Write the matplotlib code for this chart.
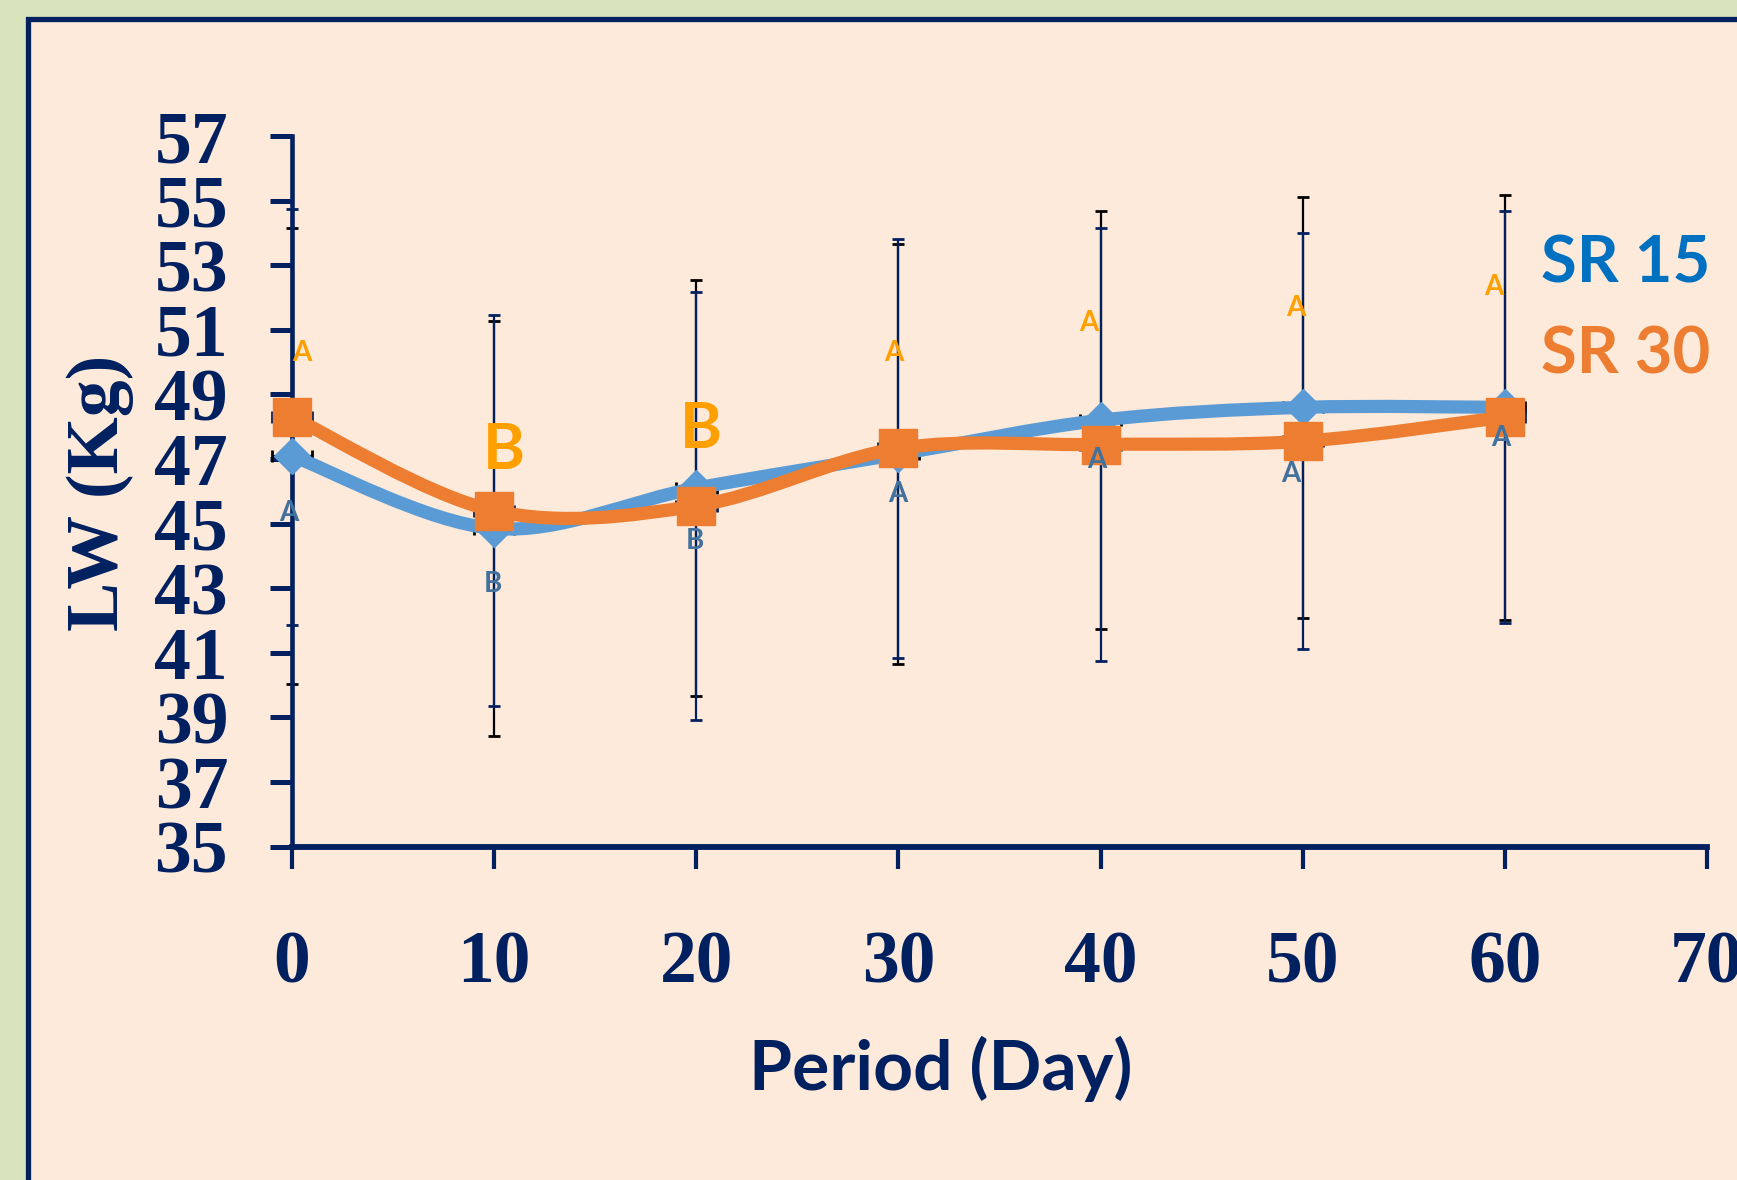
import matplotlib.pyplot as plt
from matplotlib.path import Path
from matplotlib.patches import PathPatch, Rectangle

# datos
dias = [0, 10, 20, 30, 40, 50, 60]
sr15 = [47.1, 44.85, 46.1, 47.15, 48.2, 48.6, 48.6]
sr15_de = [7.06, 6.43, 6.45, 6.5, 6.47, 6.52, 6.57]
sr30 = [48.3, 45.4, 45.55, 47.33, 47.45, 47.55, 48.3]
sr30_de = [6.43, 6.05, 6.63, 6.49, 6.69, 6.44, 6.38]

letras15 = ["A", "B", "B", "A", "A", "A", "A"]
letras30 = ["A", "B", "B", "A", "A", "A", "A"]
# donde va cada letra (coordenadas de datos)
pos15_x = [-0.15, 9.95, 19.94, 29.99, 39.83, 49.43, 59.82]
pos15_y = [45.33, 43.12, 44.46, 45.92, 46.97, 46.54, 47.66]
pos30_x = [0.49, 10.49, 20.24, 29.79, 39.44, 49.68, 59.43]
pos30_y = [50.28, 47.25, 47.93, 50.28, 51.2, 51.68, 52.33]

y_ticks = list(range(35, 58, 2))
x_ticks = list(range(0, 71, 10))

azul_osc = "#002060"
azul = "#5B9BD5"
naranja = "#ED7D31"
amarillo = "#FFA000"
azul_letra = "#41719C"


def curva_suave(x, y):
    # linea suavizada tipo Excel (Bezier por tramos)
    pts = list(zip(x, y))
    n = len(pts)
    verts = [pts[0]]
    codes = [Path.MOVETO]
    for i in range(n - 1):
        p0 = pts[i - 1] if i > 0 else pts[i]
        p1 = pts[i]
        p2 = pts[i + 1]
        p3 = pts[i + 2] if i + 2 < n else pts[i + 1]
        c1 = (p1[0] + (p2[0] - p0[0]) / 6, p1[1] + (p2[1] - p0[1]) / 6)
        c2 = (p2[0] - (p3[0] - p1[0]) / 6, p2[1] - (p3[1] - p1[1]) / 6)
        verts += [c1, c2, p2]
        codes += [Path.CURVE4] * 3
    return Path(verts, codes)


fig = plt.figure(figsize=(17.37, 11.8), dpi=100, facecolor="#D8E4BC")
fig.patches.append(Rectangle((27.8 / 1737, -0.1), 1.2, 1.1 - 18.9 / 1180,
                             transform=fig.transFigure, facecolor="#FDEADA",
                             edgecolor=azul_osc, lw=3.8, zorder=-1))

ax = fig.add_axes([292 / 1737, 1 - 846.7 / 1180, 1415 / 1737, 710.7 / 1180])
ax.set_facecolor("none")

# barras de error
ax.errorbar(dias, sr15, yerr=sr15_de, xerr=1.0, fmt="none", ecolor="black",
            elinewidth=1.6, capsize=4, capthick=2, zorder=2, clip_on=False)
ax.errorbar(dias, sr30, yerr=sr30_de, xerr=1.0, fmt="none", ecolor=azul_osc,
            elinewidth=1.6, capsize=4, capthick=2, zorder=2.1, clip_on=False)

# lineas suavizadas
ax.add_patch(PathPatch(curva_suave(dias, sr15), fill=False, edgecolor=azul,
                       lw=9.5, capstyle="round", joinstyle="round", zorder=3, clip_on=False))
ax.plot(dias, sr15, ls="none", marker="D", ms=18, color=azul, zorder=3.1, clip_on=False)
ax.add_patch(PathPatch(curva_suave(dias, sr30), fill=False, edgecolor=naranja,
                       lw=9.5, capstyle="round", joinstyle="round", zorder=4, clip_on=False))
ax.plot(dias, sr30, ls="none", marker="s", ms=27, color=naranja, zorder=4.1, clip_on=False)

# letras de significancia
for x, y, t in zip(pos15_x, pos15_y, letras15):
    ax.text(x, y, t, color=azul_letra, fontsize=20, fontweight="bold", family="Lato",
            ha="center", va="center", zorder=6)
for x, y, t in zip(pos30_x, pos30_y, letras30):
    tam = 46 if t == "B" else 20
    ax.text(x, y, t, color=amarillo, fontsize=tam, fontweight="bold", family="Lato",
            ha="center", va="center", zorder=6)

ax.set_xlim(0, 70)
ax.set_ylim(35, 57)
ax.set_xticks(x_ticks)
ax.set_yticks(y_ticks)
fuente_ticks = {"family": "Liberation Serif", "weight": "bold", "size": 53}
ax.set_xticklabels([str(v) for v in x_ticks], fontdict=fuente_ticks)
ax.set_yticklabels([str(v) for v in y_ticks], fontdict=fuente_ticks)
ax.tick_params(axis="both", direction="out", length=16, width=3.6,
               color=azul_osc, labelcolor=azul_osc)
ax.tick_params(axis="y", pad=30)
ax.tick_params(axis="x", pad=44, width=3)

for lado in ["top", "right"]:
    ax.spines[lado].set_visible(False)
ax.spines["left"].set_linewidth(3.3)
ax.spines["bottom"].set_linewidth(4.2)
ax.spines["left"].set_color(azul_osc)
ax.spines["bottom"].set_color(azul_osc)

ax.set_ylabel("LW (Kg)", family="Liberation Serif", fontweight="bold",
              fontsize=53, color=azul_osc, va="center")
ax.yaxis.set_label_coords(-0.1357, 0.4977)
ax.set_xlabel("Period (Day)", family="Lato", fontweight="bold",
              fontsize=50, color=azul_osc, va="center")
ax.xaxis.set_label_coords(0.4587, -0.3128)

# leyenda como texto
fig.text(1541 / 1737, 1 - 283 / 1180, "SR 15", color="#0070C0", fontsize=47,
         fontweight="bold", family="Lato", ha="left", va="baseline")
fig.text(1541 / 1737, 1 - 373 / 1180, "SR 30", color=naranja, fontsize=47,
         fontweight="bold", family="Lato", ha="left", va="baseline")

fig.savefig("out.png", dpi=100, facecolor=fig.get_facecolor())
